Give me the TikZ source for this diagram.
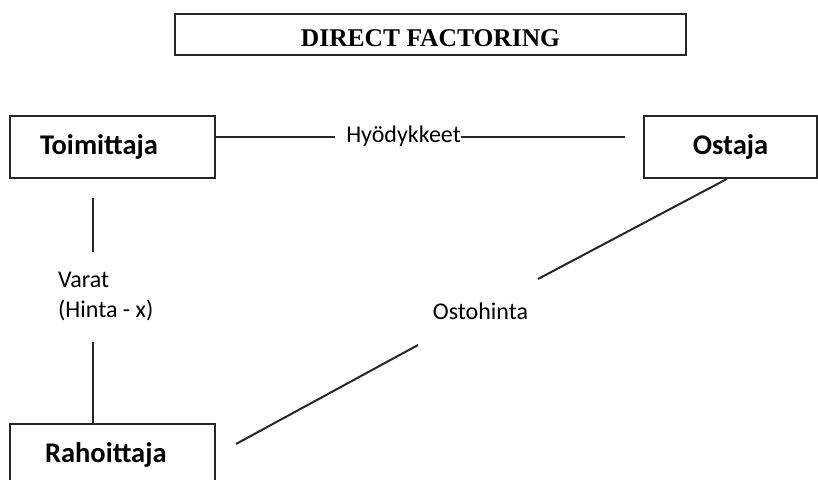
\documentclass[tikz,border=0pt]{standalone}
\usepackage{fontspec}
\setmainfont{Carlito}
\newfontfamily\titlefont{Liberation Serif}
\usetikzlibrary{positioning}
\tikzset{party/.style = {draw = black!85, line width = 1.8pt, minimum height = 62pt,
                         font = \fontsize{28.5}{32}\selectfont\bfseries},
         flow/.style = {inner sep = 0pt, align = left,
                        font = \fontsize{24}{30}\selectfont},
         link/.style = {draw = black!85, line width = 2pt}}

\begin{document}
\begin{tikzpicture}[x = 1pt, y = -1pt]
  \useasboundingbox (0, 0) rectangle (818, 479);

  \node [draw = black!85, line width = 1.8pt, minimum width = 511pt, minimum height = 41pt,
         text height = 24pt, text depth = 0pt,
         font = \titlefont\fontsize{25.5}{30}\selectfont\bfseries] (title) at (430.5, 34.5)
        {DIRECT FACTORING};

  % osapuolet
  \node [party, text width = 145pt, inner xsep = 30pt, align = left] (toimittaja) at (112.5, 147) {Toimittaja};
  \node [party, minimum width = 173pt] (ostaja) at (730.5, 147) {Ostaja};
  \node [party, text width = 135pt, inner xsep = 35pt, align = left] (rahoittaja) at (112.5, 455) {Rahoittaja};

  % virrat
  \node [flow] (hyodykkeet) at (403.5, 136.5) {Hyödykkeet};
  \node [flow, anchor = base west] (varat) at (58, 317) {Varat\\(Hinta - x)};
  \node [flow] (ostohinta) at (480.5, 311) {Ostohinta};

  \coordinate (goods end) at (625, 136.5);
  \coordinate (funds top) at (92.5, 198);
  \coordinate (funds mid) at (92.5, 252);
  \coordinate (funds low) at (92.5, 342);
  \coordinate (price top) at (538, 279);
  \coordinate (price low) at (418, 345);
  \coordinate (price end) at (236, 444);

  \draw [link, shorten >= 11pt] (toimittaja.east |- hyodykkeet.west) -- (hyodykkeet.west);
  \draw [link] (hyodykkeet.east) -- (goods end);
  \draw [link] (funds top) -- (funds mid);
  \draw [link] (funds low) -- (funds low |- rahoittaja.north);
  \draw [link] ([xshift = -3.5pt]ostaja.south) -- (price top);
  \draw [link] (price low) -- (price end);
\end{tikzpicture}
\end{document}
